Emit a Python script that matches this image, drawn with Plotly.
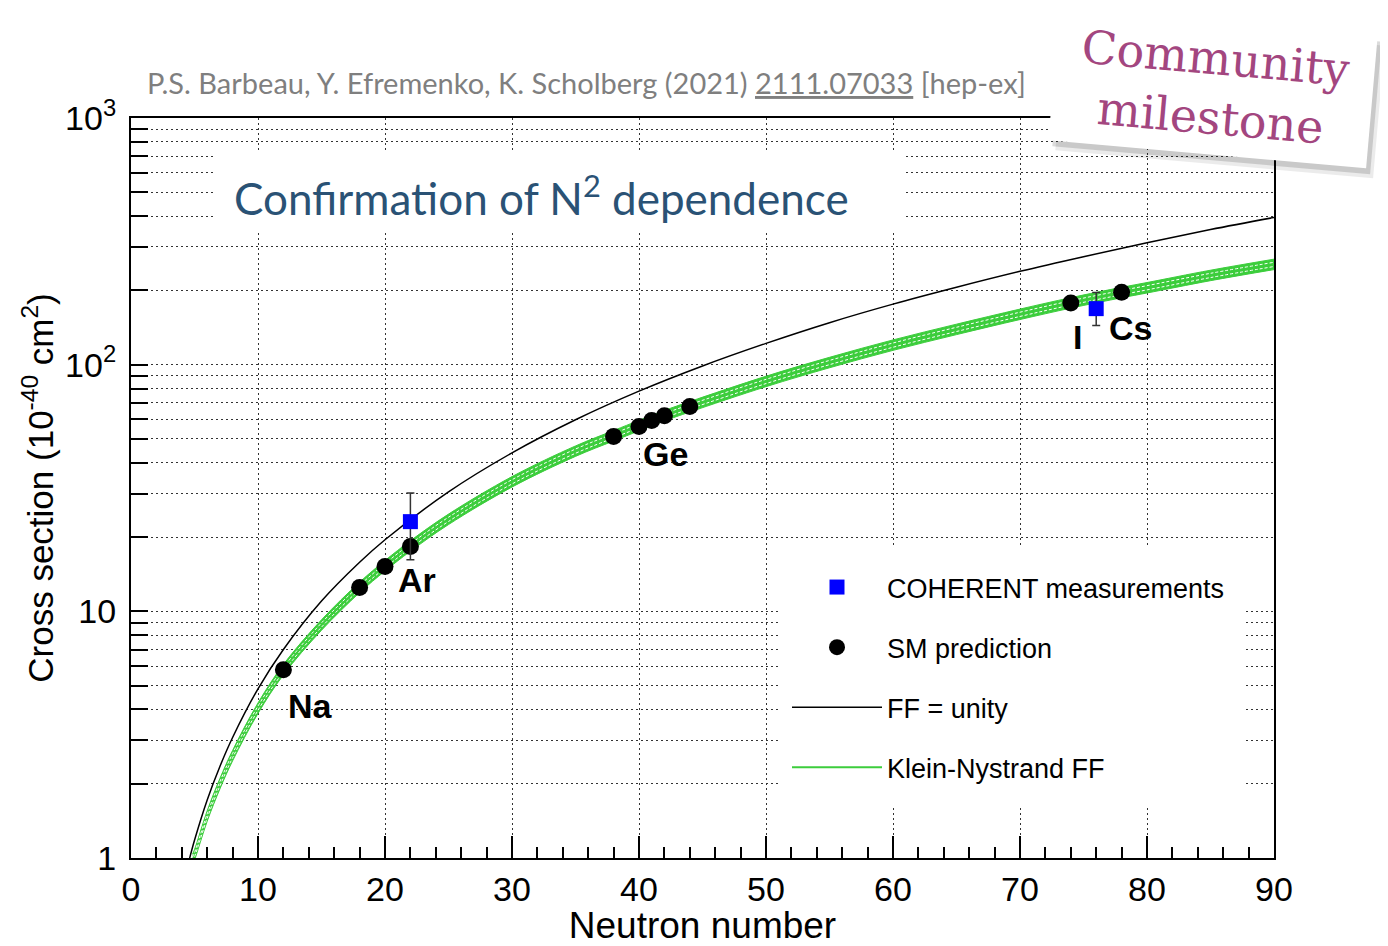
import math
import plotly.graph_objects as go

# ---------------- data ----------------
# SM predictions (black dots)
sm_n = [12, 18, 20, 22, 38, 40, 41, 42, 44, 74, 78]
sm_xs = [5.8, 12.5, 15.2, 18.3, 51.2, 56.2, 59.4, 62.1, 67.7, 178, 196.5]

# COHERENT measurements (blue squares with error bars)
coh_n = [22, 76]
coh_xs = [23.1, 168.7]
coh_err_up = [7.1, 27.3]
coh_err_dn = [6.9, 24.7]

# FF = unity curve (black line)
ffu_n = [4.6, 5, 6, 7, 8, 10, 12, 15, 18, 20, 25, 30, 35, 40, 45, 50,
         55, 60, 65, 70, 75, 80, 85, 90]
ffu_xs = [0.99, 1.18, 1.72, 2.35, 3.08, 4.85, 7.0, 11.0, 15.8, 19.5, 30.5,
          43.9, 59.8, 78.1, 98.8, 122, 148, 176, 206, 239, 274, 312, 353, 395]

# Klein-Nystrand FF curve (green band centre)
kn_n = [4.85, 5, 6, 7, 8, 10, 12, 15, 18, 20, 22, 25, 30, 35, 38, 40, 42,
        44, 50, 55, 60, 65, 70, 74, 78, 80, 85, 90]
kn_xs = [0.99, 1.03, 1.48, 2.0, 2.6, 4.05, 5.8, 8.8, 12.5, 15.3, 18.4, 23.6,
         33.5, 44.6, 51.5, 56.6, 62.1, 67.5, 85.5, 102, 120, 139, 160, 178,
         196, 205, 230, 255]
kn_band_frac = 0.05  # half-width of the green band (relative)

# element labels
lab_text = ["Na", "Ar", "Ge", "I", "Cs"]
lab_n = [14.1, 22.5, 42.05, 74.5, 78.7]
lab_xs = [4.14, 13.4, 43.6, 130, 141]

x_ticks = [0, 10, 20, 30, 40, 50, 60, 70, 80, 90]
y_ticks = [1, 10, 100, 1000]
y_ticktext = ["1", "10", "10<sup>2</sup>", "10<sup>3</sup>"]
y_minor = [m * d for d in (1, 10, 100) for m in range(2, 10)]

# ---------------- geometry (page pixels; the page body has an 8px margin) ----------------
BODY = 8
FIG_W, FIG_H = 1388 - BODY, 946 - BODY
L, R, T, B = 131, 1274, 118, 858          # plot area in page pixels


def px(xp):
    return (xp - L) / (R - L)


def py(yp):
    return (B - yp) / (B - T)


# ---------------- figure ----------------
GREEN = "rgb(60,205,60)"
fig = go.Figure()

kn_lo = [v / (1 + kn_band_frac) for v in kn_xs]
kn_hi = [v * (1 + kn_band_frac) for v in kn_xs]
kn_in_lo = [v / (1 + kn_band_frac * 0.4) for v in kn_xs]
kn_in_hi = [v * (1 + kn_band_frac * 0.4) for v in kn_xs]

fig.add_trace(go.Scatter(x=kn_n, y=kn_lo, mode="lines", line=dict(color=GREEN, width=1, shape="spline"),
                         showlegend=False, hoverinfo="skip"))
fig.add_trace(go.Scatter(x=kn_n, y=kn_hi, mode="lines", line=dict(color=GREEN, width=1, shape="spline"),
                         fill="tonexty", fillcolor=GREEN, showlegend=False, hoverinfo="skip"))
for arr in (kn_in_lo, kn_in_hi):
    fig.add_trace(go.Scatter(x=kn_n, y=arr, mode="lines",
                             line=dict(color="white", width=1, dash="3px,2px", shape="spline"),
                             showlegend=False, hoverinfo="skip"))

fig.add_trace(go.Scatter(x=ffu_n, y=ffu_xs, mode="lines", name="FF = unity",
                         line=dict(color="black", width=1.5, shape="spline"),
                         legendgroup="c", legendrank=3))
fig.add_trace(go.Scatter(x=[None], y=[None], mode="lines", name="Klein-Nystrand FF",
                         line=dict(color=GREEN, width=2),
                         legendgroup="d", legendrank=4))
fig.add_trace(go.Scatter(x=sm_n, y=sm_xs, mode="markers", name="SM prediction",
                         marker=dict(color="black", size=17, symbol="circle"),
                         legendgroup="b", legendrank=2))
fig.add_trace(go.Scatter(x=coh_n, y=coh_xs, mode="markers", name="COHERENT measurements",
                         marker=dict(color="#0000ff", size=15, symbol="square"),
                         error_y=dict(type="data", symmetric=False, array=coh_err_up,
                                      arrayminus=coh_err_dn, color="#333333",
                                      thickness=1.5, width=4),
                         legendgroup="a", legendrank=1))

font_root = "Liberation Sans, Arial, sans-serif"
font_cal = "Lato, Open Sans, sans-serif"

annotations = []
for t, xn, yv in zip(lab_text, lab_n, lab_xs):
    annotations.append(dict(x=xn, y=math.log10(yv), xref="x", yref="y", text="<b>%s</b>" % t,
                            showarrow=False, font=dict(family=font_root, size=34, color="black"),
                            xanchor="center", yanchor="middle"))

# citation line
annotations.append(dict(x=px(145), y=py(83), xref="paper", yref="paper",
                        text="P.S. Barbeau, Y. Efremenko, K. Scholberg (2021) <u>2111.07033</u> [hep-ex]",
                        showarrow=False, font=dict(family=font_cal, size=29, color="#7f7f7f"),
                        xanchor="left", yanchor="middle"))
# title
annotations.append(dict(x=px(232), y=py(195), xref="paper", yref="paper",
                        text="Confirmation of N<sup>2</sup> dependence",
                        showarrow=False, font=dict(family=font_cal, size=44, color="#2a5275"),
                        xanchor="left", yanchor="middle"))
# sticky note shadow + note
NX, NY = 1213, 88
for dx, dy, col in [(7, 10, "rgba(0,0,0,0.08)"), (4, 6, "rgba(0,0,0,0.14)")]:
    annotations.append(dict(x=px(NX + dx), y=py(NY + dy), xref="paper", yref="paper",
                            text=" ", textangle=5, showarrow=False,
                            font=dict(family="DejaVu Serif, serif", size=44, color="black"),
                            bgcolor=col, width=316, height=130, xanchor="center", yanchor="middle"))
annotations.append(dict(x=px(NX), y=py(NY), xref="paper", yref="paper",
                        text="Community<br>milestone", textangle=5, showarrow=False,
                        font=dict(family="DejaVu Serif, serif", size=46, color="#a3467f"),
                        bgcolor="white", width=316, height=130, xanchor="center", yanchor="middle"))

shapes = [
    # white box behind the title (hides grid)
    dict(type="rect", xref="paper", yref="paper", x0=px(213), x1=px(903),
         y0=py(231), y1=py(150), fillcolor="white", line=dict(width=0), layer="above"),
    # white legend background (hides grid; no data is drawn in this region)
    dict(type="rect", xref="paper", yref="paper", x0=px(780), x1=px(1245),
         y0=py(805), y1=py(548), fillcolor="white", line=dict(width=0), layer="above"),
]

grid_col = "#333333"
grid_dash = "1.5px,3.5px"
fig.update_layout(
    width=FIG_W, height=FIG_H, autosize=False,
    margin=dict(l=L - BODY, r=FIG_W - (R - BODY), t=T - BODY, b=FIG_H - (B - BODY), pad=0),
    paper_bgcolor="white", plot_bgcolor="white",
    font=dict(family=font_root, color="black"),
    annotations=annotations, shapes=shapes,
    legend=dict(x=px(787), y=py(563), xanchor="left", yanchor="top",
                bgcolor="rgba(0,0,0,0)", font=dict(family=font_root, size=27, color="black"),
                traceorder="grouped", tracegroupgap=22, itemwidth=90),
    xaxis=dict(range=[0, 90], tickvals=x_ticks, ticks="inside", ticklen=22, tickwidth=1.5,
               tickcolor="black", showline=True, linecolor="black", linewidth=2, mirror=True,
               showgrid=True, gridcolor=grid_col, griddash=grid_dash, gridwidth=1.2, zeroline=False,
               automargin=False,
               minor=dict(dtick=2, ticks="inside", ticklen=11, tickwidth=1.5, tickcolor="black",
                          showgrid=False),
               tickfont=dict(family=font_root, size=34, color="black"),
               title=dict(text="Neutron number", font=dict(family=font_root, size=37, color="black"),
                          standoff=16)),
    yaxis=dict(type="log", range=[0, 3], tickvals=y_ticks, ticktext=y_ticktext, ticks="inside",
               ticklen=17, tickwidth=1.5, tickcolor="black", showline=True, linecolor="black",
               linewidth=2, mirror=True, showgrid=True, gridcolor=grid_col, griddash=grid_dash,
               gridwidth=1.2, zeroline=False, automargin=False, ticklabelstandoff=6,
               minor=dict(tickvals=y_minor, ticks="inside", ticklen=17, tickwidth=1.5,
                          tickcolor="black", showgrid=True, gridcolor=grid_col, griddash=grid_dash,
                          gridwidth=1.2),
               tickfont=dict(family=font_root, size=34, color="black"),
               title=dict(text="Cross section (10<sup>-40</sup> cm<sup>2</sup>)",
                          font=dict(family=font_root, size=35, color="black"), standoff=1)),
)

fig.write_html("out.html")
